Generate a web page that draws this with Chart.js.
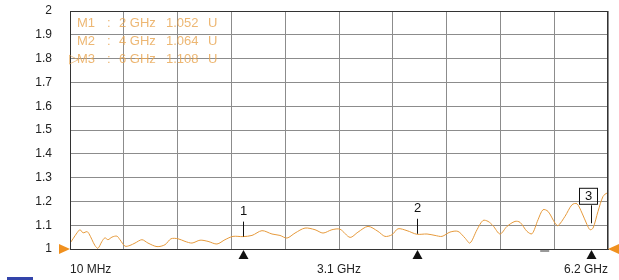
<!DOCTYPE html>
<html>
<head>
<meta charset="utf-8">
<script src="https://cdn.jsdelivr.net/npm/chart.js@4/dist/chart.umd.min.js"></script>
<style>
  html, body { margin: 0; padding: 0; background: #fff; }
  #wrap { width: 619px; height: 280px; }
</style>
</head>
<body>
<div id="wrap"><canvas id="swr" width="619" height="280"></canvas></div>
<script>
'use strict';

// trace: frequency (GHz) vs SWR (U)
const freqGHz = [
  0.01, 0.045, 0.091, 0.125, 0.16, 0.206, 0.229, 0.263, 0.298, 0.332,
  0.378, 0.412, 0.447, 0.493, 0.55, 0.585, 0.643, 0.7, 0.758, 0.838,
  0.907, 1.011, 1.103, 1.172, 1.253, 1.333, 1.414, 1.506, 1.598, 1.701,
  1.793, 1.885, 2.0, 2.104, 2.219, 2.334, 2.426, 2.507, 2.599, 2.714,
  2.829, 2.921, 3.024, 3.117, 3.232, 3.324, 3.439, 3.554, 3.634, 3.715,
  3.784, 3.888, 4.0, 4.118, 4.21, 4.29, 4.382, 4.474, 4.555, 4.612,
  4.693, 4.762, 4.82, 4.877, 4.958, 5.038, 5.13, 5.188, 5.268, 5.326,
  5.395, 5.452, 5.51, 5.59, 5.625, 5.705, 5.786, 5.843, 5.901, 5.959,
  5.993, 6.028, 6.085, 6.143, 6.189, 6.2
];
const swr = [
  1.024, 1.043, 1.068, 1.081, 1.068, 1.073, 1.064, 1.039, 1.014, 1.003,
  1.032, 1.047, 1.039, 1.05, 1.054, 1.039, 1.012, 1.015, 1.025, 1.039,
  1.025, 1.01, 1.018, 1.043, 1.043, 1.032, 1.025, 1.037, 1.032, 1.021,
  1.039, 1.053, 1.052, 1.057, 1.077, 1.063, 1.057, 1.046, 1.067, 1.088,
  1.081, 1.067, 1.081, 1.083, 1.049, 1.071, 1.095, 1.074, 1.053, 1.06,
  1.085, 1.077, 1.062, 1.063, 1.057, 1.053, 1.071, 1.074, 1.046, 1.025,
  1.081, 1.12, 1.116, 1.098, 1.063, 1.095, 1.116, 1.112, 1.074, 1.064,
  1.123, 1.165, 1.158, 1.109, 1.098, 1.137, 1.186, 1.19, 1.151, 1.102,
  1.081, 1.088, 1.158, 1.221, 1.235, 1.228
];

// markers
const markerNames = ['1', '2', '3'];
const markerFreq = [2, 4, 6];
const markerText = ['2 GHz', '4 GHz', '6 GHz'];
const markerVal = ['1.052', '1.064', '1.108'];
const activeMarker = 2;

// axis
const xStart = 0.01, xStop = 6.2, xDivs = 10;
const xTickLabels = ['10 MHz', '3.1 GHz', '6.2 GHz'];
const yMin = 1, yMax = 2, yStep = 0.1;

const FONT = '"Liberation Sans", Arial, sans-serif';
const TRACE = '#E69A3C';

const overlay = {
  id: 'overlay',
  afterDatasetsDraw(chart) {
    const { ctx, chartArea: a, scales: { x, y } } = chart;
    ctx.save();

    // frame
    ctx.strokeStyle = '#333';
    ctx.lineWidth = 1;
    ctx.strokeRect(a.left + 0.5, a.top + 0.5, a.right - a.left - 1, a.bottom - a.top);

    // marker readout
    ctx.font = '13px ' + FONT;
    ctx.fillStyle = 'rgba(232,165,80,0.8)';
    ctx.textBaseline = 'middle';
    ctx.textAlign = 'left';
    markerNames.forEach((n, i) => {
      const ty = a.top + 12 + i * 18;
      if (i === activeMarker) ctx.fillText('\u25B7', a.left - 1, ty);
      ctx.fillText('M' + n, a.left + 7, ty);
      ctx.fillText(':', a.left + 37, ty);
      ctx.fillText(markerText[i], a.left + 49, ty);
      ctx.fillText(markerVal[i], a.left + 96, ty);
      ctx.fillText('U', a.left + 138, ty);
    });

    // marker flags on the trace
    ctx.fillStyle = '#111';
    ctx.strokeStyle = '#111';
    ctx.font = '13px ' + FONT;
    ctx.textAlign = 'center';
    markerNames.forEach((n, i) => {
      const px = Math.round(x.getPixelForValue(markerFreq[i])) + 0.5;
      const py = y.getPixelForValue(parseFloat(markerVal[i]));
      ctx.beginPath();
      if (i === activeMarker) {
        ctx.moveTo(px, py);
        ctx.lineTo(px, py - 18);
        ctx.stroke();
        ctx.strokeRect(px - 12, py - 35, 18, 16);
        ctx.fillText(n, px - 3, py - 27);
      } else {
        ctx.moveTo(px, py);
        ctx.lineTo(px, py - 15);
        ctx.stroke();
        ctx.fillText(n, px, py - 25);
      }
      // triangle under the axis
      ctx.beginPath();
      ctx.moveTo(px, a.bottom + 1);
      ctx.lineTo(px - 5, a.bottom + 10);
      ctx.lineTo(px + 5, a.bottom + 10);
      ctx.closePath();
      ctx.fill();
    });

    // small grey dash below the axis
    ctx.fillStyle = '#999';
    ctx.fillRect(x.getPixelForValue(5.42), a.bottom + 1, 9, 2);

    // reference-level arrows
    ctx.fillStyle = '#F0901E';
    ctx.beginPath();
    ctx.moveTo(a.left, a.bottom);
    ctx.lineTo(a.left - 11, a.bottom - 5);
    ctx.lineTo(a.left - 11, a.bottom + 5);
    ctx.closePath();
    ctx.fill();
    ctx.beginPath();
    ctx.moveTo(a.right, a.bottom);
    ctx.lineTo(a.right + 11, a.bottom - 5);
    ctx.lineTo(a.right + 11, a.bottom + 5);
    ctx.closePath();
    ctx.fill();

    // frequency labels
    ctx.fillStyle = '#222';
    ctx.font = '12px ' + FONT;
    ctx.textBaseline = 'middle';
    const ly = a.bottom + 21;
    ctx.textAlign = 'left';
    ctx.fillText(xTickLabels[0], a.left, ly);
    ctx.textAlign = 'center';
    ctx.fillText(xTickLabels[1], (a.left + a.right) / 2, ly);
    ctx.textAlign = 'right';
    ctx.fillText(xTickLabels[2], a.right, ly);

    // blue tab at the bottom edge
    ctx.fillStyle = '#3344AA';
    ctx.fillRect(7, 277, 26, 3);

    ctx.restore();
  }
};

new Chart(document.getElementById('swr'), {
  type: 'line',
  data: {
    datasets: [{
      data: freqGHz.map((f, i) => ({ x: f, y: swr[i] })),
      borderColor: TRACE,
      borderWidth: 1,
      pointRadius: 0,
      tension: 0.3,
      fill: false,
    }]
  },
  options: {
    responsive: false,
    animation: false,
    layout: { padding: { top: 11, right: 11, left: 0, bottom: 0 } },
    plugins: { legend: { display: false }, tooltip: { enabled: false } },
    scales: {
      x: {
        type: 'linear',
        min: xStart,
        max: xStop,
        afterBuildTicks: s => {
          s.ticks = Array.from({ length: xDivs + 1 }, (_, i) => ({ value: xStart + (xStop - xStart) * i / xDivs }));
        },
        afterFit: s => { s.height = 31; s.paddingLeft = 0; s.paddingRight = 0; },
        ticks: { display: false },
        grid: { color: '#8c8c8c', lineWidth: 1, drawTicks: false },
        border: { color: '#333' },
      },
      y: {
        min: yMin,
        max: yMax,
        afterFit: s => { s.width = 70; s.paddingTop = 0; s.paddingBottom = 0; },
        ticks: {
          stepSize: yStep,
          padding: 18,
          color: '#222',
          font: { family: FONT, size: 12 },
          callback: v => String(Number(v.toFixed(1))),
        },
        grid: { color: '#8c8c8c', lineWidth: 1, drawTicks: false },
        border: { color: '#333' },
      }
    }
  },
  plugins: [overlay]
});
</script>
</body>
</html>
